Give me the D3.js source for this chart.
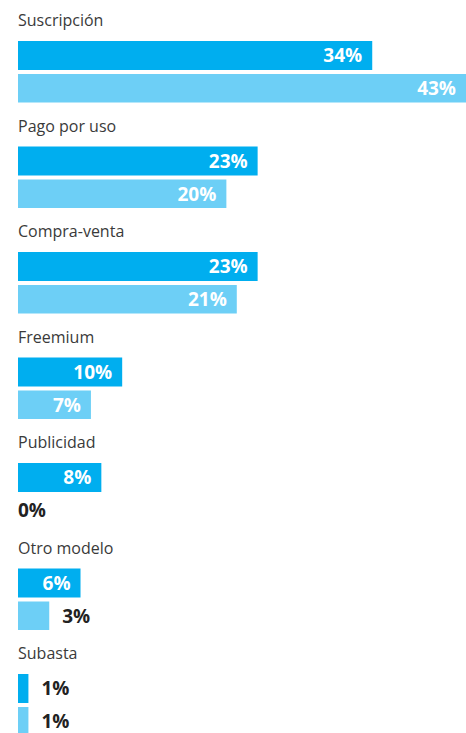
<!DOCTYPE html>
<html>
<head>
<meta charset="utf-8">
<script src="https://cdn.jsdelivr.net/npm/d3@7"></script>
<style>
  body { margin: 0; background: #fff; }
  text { font-family: "Open Sans", sans-serif; }
</style>
</head>
<body>
<div id="chart"></div>
<script>
var categories = ["Suscripción", "Pago por uso", "Compra-venta", "Freemium", "Publicidad", "Otro modelo", "Subasta"];
var series1 = [34, 23, 23, 10, 8, 6, 1];
var series2 = [43, 20, 21, 7, 0, 3, 1];
var colors = ["#00aeef", "#6dcff6"];

var width = 466, height = 733;
var margin = {top: 0, left: 18, right: 0};

var svg = d3.select("#chart").append("svg")
  .attr("width", width)
  .attr("height", height);

var x = d3.scaleLinear().domain([0, 43]).range([margin.left, 466]);

// one band per category
var y = d3.scaleBand().domain(categories).range([0, 738.5]).paddingInner(0).paddingOuter(0);

var groups = svg.selectAll("g.cat").data(categories).enter()
  .append("g")
  .attr("class", "cat")
  .attr("transform", function(d) { return "translate(0," + y(d) + ")"; });

groups.append("text")
  .attr("x", margin.left)
  .attr("y", 26)
  .attr("fill", "#3a3a3a")
  .style("font-size", "16px")
  .text(function(d) { return d; });

var barOffsets = [41, 74];
var barH = [29, 28.5];

[series1, series2].forEach(function(vals, s) {
  groups.each(function(cat, i) {
    var g = d3.select(this);
    var v = vals[i];
    var w = x(v) - x(0);
    var top = barOffsets[s];
    if (v > 0) {
      g.append("rect")
        .attr("x", x(0))
        .attr("y", top)
        .attr("width", w)
        .attr("height", barH[s])
        .attr("fill", colors[s]);
    }
    var inside = w > 55;
    g.append("text")
      .attr("x", inside ? x(v) - 10 : (v > 0 ? x(v) + 13 : x(0)))
      .attr("y", top + barH[s] / 2)
      .attr("dy", "0.36em")
      .attr("text-anchor", inside ? "end" : "start")
      .attr("fill", inside ? "#fff" : "#222")
      .style("font-size", "19px")
      .style("font-weight", "bold")
      .text(v + "%");
  });
});
</script>
</body>
</html>
